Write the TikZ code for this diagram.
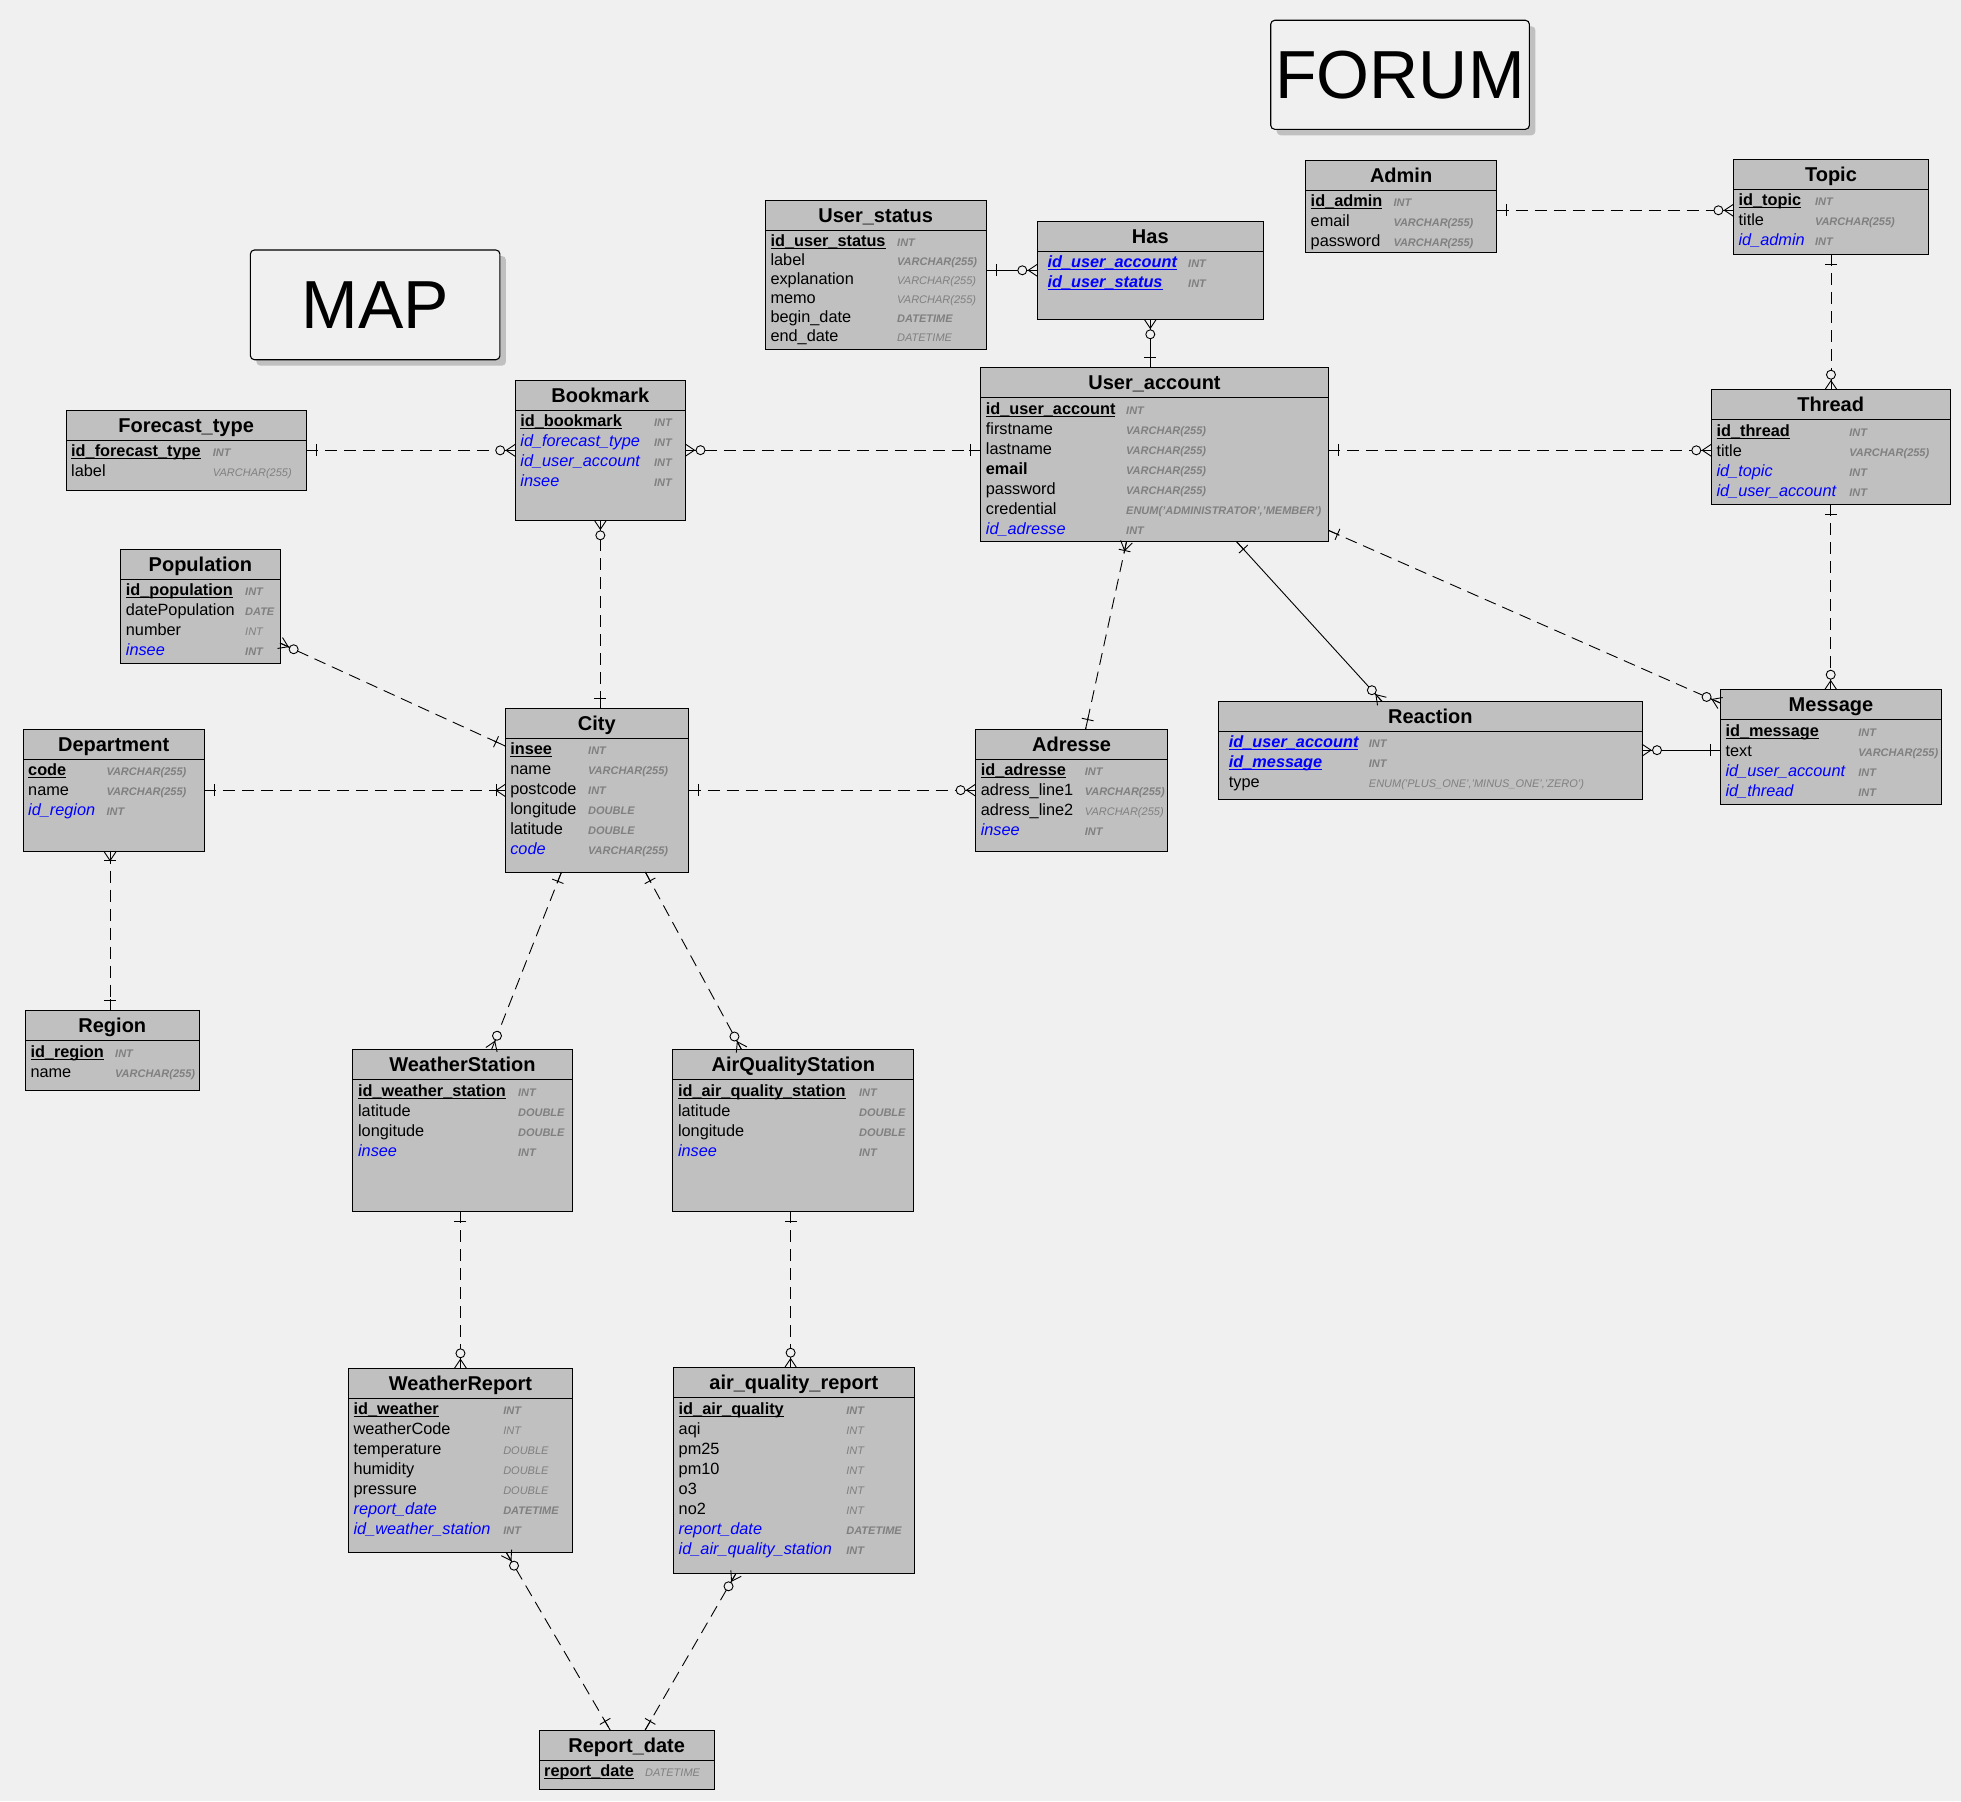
\documentclass[tikz,border=0pt]{standalone}
\usepackage{fontspec}
\setmainfont{Liberation Sans}
\usetikzlibrary{calc,shadows}
\definecolor{bgc}{HTML}{F0F0F0}
\definecolor{tblc}{HTML}{C0C0C0}
\definecolor{typec}{HTML}{808080}
\definecolor{fkblue}{HTML}{0000FF}
\definecolor{shadowc}{HTML}{C0C0C0}
\newcounter{rowc}
\newcommand\ulx[1]{\setbox0=\hbox{#1}\rlap{\rule[-2.6pt]{\wd0}{1.1pt}}\box0}
\newcommand\pkN[1]{{\bfseries\ulx{#1}}}
\newcommand\fkN[1]{{\itshape\color{fkblue}#1}}
\newcommand\pfN[1]{{\bfseries\itshape\color{fkblue}\ulx{#1}}}
\newcommand\plN[1]{#1}
\newcommand\bdN[1]{{\bfseries #1}}
\newcommand\tbT[1]{{\bfseries\itshape #1}}
\newcommand\tlT[1]{{\itshape #1}}
\tikzset{
  tblbox/.style={draw=black, line width=1pt, fill=tblc, inner sep=0pt, outer sep=0pt},
  hdrtxt/.style={font=\fontsize{20}{24}\selectfont\bfseries, anchor=base, inner sep=0pt},
  nametxt/.style={font=\fontsize{16.3}{19}\selectfont, anchor=base west, inner sep=0pt},
  typetxt/.style={font=\fontsize{11}{13}\selectfont, text=typec, anchor=base west, inner sep=0pt},
  dashline/.style={line width=0.9pt, dash pattern=on 12pt off 7pt},
  solidline/.style={line width=0.9pt},
  solidend/.style={line width=0.9pt, solid},
  titlebox/.style={draw=black, line width=1.1pt, fill=bgc, rounded corners=4pt, inner sep=0pt, outer sep=0pt,
    font=\fontsize{68}{80}\selectfont,
    drop shadow={shadow xshift=6pt, shadow yshift=-6pt, fill=shadowc, opacity=1}},
}
% table: name, left, top, right, bottom, name offset, type offset, row spacing, title
\newcommand\ertable[9]{%
  \def\curN{#1}\def\curL{#2}\def\curT{#3}\def\curNO{#6}\def\curTO{#7}\def\curS{#8}%
  \setcounter{rowc}{0}%
  \pgfmathsetmacro\tw{#4-#2}\pgfmathsetmacro\th{#5-#3}%
  \node[tblbox, minimum width=\tw pt, minimum height=\th pt, anchor=north west] (#1) at (#2,#3) {};
  \draw[line width=1pt] (#2,#3+30) -- (#4,#3+30);
  \node[hdrtxt] (#1-title) at ({(#2+#4)/2},{#3+22}) {#9};
}
\newcommand\fld[4]{%
  \stepcounter{rowc}%
  \pgfmathsetmacro\ry{\curT+46.5+(\arabic{rowc}-1)*\curS}%
  \pgfmathsetmacro\nx{\curL+\curNO}\pgfmathsetmacro\tx{\curL+\curTO}%
  \node[nametxt] (\curN-n\arabic{rowc}) at (\nx,\ry) {#1{#2}};
  \node[typetxt] (\curN-t\arabic{rowc}) at (\tx,\ry) {#3{#4}};
}
\newcommand\crone[2]{%
  \draw[solidend] (#1) -- ($(#1)!12pt!(#2)$);
  \draw[solidend] ($(#1)!10pt!(#2)!6pt!90:(#2)$) -- ($(#1)!10pt!(#2)!6pt!-90:(#2)$);
}
\newcommand\crzm[2]{%
  \draw[solidend] (#1) -- ($(#1)!19pt!(#2)$);
  \draw[solidend] ($(#1)!6pt!90:(#2)$) -- ($(#1)!9pt!(#2)$) -- ($(#1)!6pt!-90:(#2)$);
  \draw[solidend, fill=bgc] ($(#1)!15pt!(#2)$) circle[radius=4.5pt];
}
\newcommand\crom[2]{%
  \draw[solidend] (#1) -- ($(#1)!12pt!(#2)$);
  \draw[solidend] ($(#1)!6pt!90:(#2)$) -- ($(#1)!9pt!(#2)$) -- ($(#1)!6pt!-90:(#2)$);
  \draw[solidend] ($(#1)!9pt!(#2)!6pt!90:(#2)$) -- ($(#1)!9pt!(#2)!6pt!-90:(#2)$);
}
\newcommand\conn[5][dashline]{%
  \draw[#1] (#2) -- (#3);
  #4{#2}{#3}%
  #5{#3}{#2}%
}
\begin{document}
\begin{tikzpicture}[x=1pt,y=-1pt]
\useasboundingbox (0,0) rectangle (1961,1801);
\fill[bgc] (0,0) rectangle (1961,1801);

% title boxes
\node[titlebox, minimum width=249.5pt, minimum height=109.7pt, anchor=north west] (map) at (250.4,250) {MAP};
\node[titlebox, minimum width=258.7pt, minimum height=109pt, anchor=north west] (forum) at (1270.7,20.3) {FORUM};

% ---------- tables ----------
\ertable{fc}{66}{410}{306.3}{490.7}{5}{146.7}{20}{Forecast\_type}
\fld{\pkN}{id\_forecast\_type}{\tbT}{INT}
\fld{\plN}{label}{\tlT}{VARCHAR(255)}

\ertable{bm}{515.2}{380}{685.5}{520.3}{5}{138.6}{20}{Bookmark}
\fld{\pkN}{id\_bookmark}{\tbT}{INT}
\fld{\fkN}{id\_forecast\_type}{\tbT}{INT}
\fld{\fkN}{id\_user\_account}{\tbT}{INT}
\fld{\fkN}{insee}{\tbT}{INT}

\ertable{us}{765.3}{200.3}{986}{349.3}{5}{131.7}{19}{User\_status}
\fld{\pkN}{id\_user\_status}{\tbT}{INT}
\fld{\plN}{label}{\tbT}{VARCHAR(255)}
\fld{\plN}{explanation}{\tlT}{VARCHAR(255)}
\fld{\plN}{memo}{\tlT}{VARCHAR(255)}
\fld{\plN}{begin\_date}{\tbT}{DATETIME}
\fld{\plN}{end\_date}{\tlT}{DATETIME}

\ertable{has}{1037.3}{221.3}{1263.3}{319.3}{10}{150.7}{20}{Has}
\fld{\pfN}{id\_user\_account}{\tbT}{INT}
\fld{\pfN}{id\_user\_status}{\tbT}{INT}

\ertable{ua}{980.7}{367.7}{1328.3}{541.7}{5}{145.3}{20}{User\_account}
\fld{\pkN}{id\_user\_account}{\tbT}{INT}
\fld{\plN}{firstname}{\tbT}{VARCHAR(255)}
\fld{\plN}{lastname}{\tbT}{VARCHAR(255)}
\fld{\bdN}{email}{\tbT}{VARCHAR(255)}
\fld{\plN}{password}{\tbT}{VARCHAR(255)}
\fld{\plN}{credential}{\tbT}{ENUM('ADMINISTRATOR','MEMBER')}
\fld{\fkN}{id\_adresse}{\tbT}{INT}

\ertable{admin}{1305.5}{160.3}{1496.7}{252.3}{5}{87.8}{20}{Admin}
\fld{\pkN}{id\_admin}{\tbT}{INT}
\fld{\plN}{email}{\tbT}{VARCHAR(255)}
\fld{\plN}{password}{\tbT}{VARCHAR(255)}

\ertable{topic}{1733.4}{159.3}{1928.5}{254.3}{5}{81.4}{20}{Topic}
\fld{\pkN}{id\_topic}{\tbT}{INT}
\fld{\plN}{title}{\tbT}{VARCHAR(255)}
\fld{\fkN}{id\_admin}{\tbT}{INT}

\ertable{thread}{1711.3}{389.7}{1950.1}{504.3}{5}{137.9}{20}{Thread}
\fld{\pkN}{id\_thread}{\tbT}{INT}
\fld{\plN}{title}{\tbT}{VARCHAR(255)}
\fld{\fkN}{id\_topic}{\tbT}{INT}
\fld{\fkN}{id\_user\_account}{\tbT}{INT}

\ertable{msg}{1720.3}{689.7}{1941.6}{804.3}{5}{137.8}{20}{Message}
\fld{\pkN}{id\_message}{\tbT}{INT}
\fld{\plN}{text}{\tbT}{VARCHAR(255)}
\fld{\fkN}{id\_user\_account}{\tbT}{INT}
\fld{\fkN}{id\_thread}{\tbT}{INT}

\ertable{react}{1218.7}{701.3}{1642}{799}{10}{150}{20}{Reaction}
\fld{\pfN}{id\_user\_account}{\tbT}{INT}
\fld{\pfN}{id\_message}{\tbT}{INT}
\fld{\plN}{type}{\tlT}{ENUM('PLUS\_ONE','MINUS\_ONE','ZERO')}

\ertable{pop}{120.7}{549.3}{280}{663.3}{5}{124.3}{20}{Population}
\fld{\pkN}{id\_population}{\tbT}{INT}
\fld{\plN}{datePopulation}{\tbT}{DATE}
\fld{\plN}{number}{\tlT}{INT}
\fld{\fkN}{insee}{\tbT}{INT}

\ertable{dept}{23}{729.2}{204.3}{851.6}{5}{83.3}{20}{Department}
\fld{\pkN}{code}{\tbT}{VARCHAR(255)}
\fld{\plN}{name}{\tbT}{VARCHAR(255)}
\fld{\fkN}{id\_region}{\tbT}{INT}

\ertable{region}{25.3}{1010.5}{199.3}{1090.5}{5}{89.7}{20}{Region}
\fld{\pkN}{id\_region}{\tbT}{INT}
\fld{\plN}{name}{\tbT}{VARCHAR(255)}

\ertable{city}{505.1}{708.3}{688.5}{872}{5}{82.9}{20}{City}
\fld{\pkN}{insee}{\tbT}{INT}
\fld{\plN}{name}{\tbT}{VARCHAR(255)}
\fld{\plN}{postcode}{\tbT}{INT}
\fld{\plN}{longitude}{\tbT}{DOUBLE}
\fld{\plN}{latitude}{\tbT}{DOUBLE}
\fld{\fkN}{code}{\tbT}{VARCHAR(255)}

\ertable{adr}{975.6}{729.3}{1167.5}{851.3}{5}{109}{20}{Adresse}
\fld{\pkN}{id\_adresse}{\tbT}{INT}
\fld{\plN}{adress\_line1}{\tbT}{VARCHAR(255)}
\fld{\plN}{adress\_line2}{\tlT}{VARCHAR(255)}
\fld{\fkN}{insee}{\tbT}{INT}

\ertable{ws}{352.9}{1049.7}{572.1}{1211}{5}{165}{20}{WeatherStation}
\fld{\pkN}{id\_weather\_station}{\tbT}{INT}
\fld{\plN}{latitude}{\tbT}{DOUBLE}
\fld{\plN}{longitude}{\tbT}{DOUBLE}
\fld{\fkN}{insee}{\tbT}{INT}

\ertable{aqs}{672.8}{1049.7}{913.8}{1211}{5}{186.1}{20}{AirQualityStation}
\fld{\pkN}{id\_air\_quality\_station}{\tbT}{INT}
\fld{\plN}{latitude}{\tbT}{DOUBLE}
\fld{\plN}{longitude}{\tbT}{DOUBLE}
\fld{\fkN}{insee}{\tbT}{INT}

\ertable{wr}{348.4}{1368.3}{572.5}{1552.7}{5}{154.7}{20}{WeatherReport}
\fld{\pkN}{id\_weather}{\tbT}{INT}
\fld{\plN}{weatherCode}{\tlT}{INT}
\fld{\plN}{temperature}{\tlT}{DOUBLE}
\fld{\plN}{humidity}{\tlT}{DOUBLE}
\fld{\plN}{pressure}{\tlT}{DOUBLE}
\fld{\fkN}{report\_date}{\tbT}{DATETIME}
\fld{\fkN}{id\_weather\_station}{\tbT}{INT}

\ertable{aqr}{673.5}{1367.7}{914.2}{1573.3}{5}{172.7}{20}{air\_quality\_report}
\fld{\pkN}{id\_air\_quality}{\tbT}{INT}
\fld{\plN}{aqi}{\tlT}{INT}
\fld{\plN}{pm25}{\tlT}{INT}
\fld{\plN}{pm10}{\tlT}{INT}
\fld{\plN}{o3}{\tlT}{INT}
\fld{\plN}{no2}{\tlT}{INT}
\fld{\fkN}{report\_date}{\tbT}{DATETIME}
\fld{\fkN}{id\_air\_quality\_station}{\tbT}{INT}

\ertable{rd}{539}{1730}{714.3}{1789.3}{5}{106}{20}{Report\_date}
\fld{\pkN}{report\_date}{\tlT}{DATETIME}

% ---------- connectors ----------
\coordinate (k1a) at (fc.east); \coordinate (k1b) at (bm.west |- fc.east);
\conn{k1a}{k1b}{\crone}{\crzm}
\coordinate (k2a) at (bm.east); \coordinate (k2b) at (ua.west |- bm.east);
\conn{k2a}{k2b}{\crzm}{\crone}
\coordinate (k3a) at (us.east |- has.west); \coordinate (k3b) at (has.west);
\conn[solidline]{k3a}{k3b}{\crone}{\crzm}
\coordinate (k4a) at (has.south); \coordinate (k4b) at (ua.north -| has.south);
\conn[solidline]{k4a}{k4b}{\crzm}{\crone}
\coordinate (k5a) at ([yshift=-4pt]admin.east); \coordinate (k5b) at (topic.west |- k5a);
\conn{k5a}{k5b}{\crone}{\crzm}
\coordinate (k6a) at (topic.south); \coordinate (k6b) at (thread.north -| topic.south);
\conn{k6a}{k6b}{\crone}{\crzm}
\coordinate (k7a) at ([yshift=4.4pt]ua.east); \coordinate (k7b) at (thread.west |- k7a);
\conn{k7a}{k7b}{\crone}{\crzm}
\coordinate (k8a) at (thread.south); \coordinate (k8b) at (msg.north -| thread.south);
\conn{k8a}{k8b}{\crone}{\crzm}
\coordinate (k9a) at ([yshift=-75.6pt]ua.east); \coordinate (k9b) at ([yshift=44pt]msg.west);
\conn{k9a}{k9b}{\crone}{\crzm}
\coordinate (k10a) at ([xshift=82.1pt]ua.south); \coordinate (k10b) at ([xshift=-48.4pt]react.north);
\conn[solidline]{k10a}{k10b}{\crone}{\crzm}
\coordinate (k11a) at (react.east); \coordinate (k11b) at (msg.west |- react.east);
\conn[solidline]{k11a}{k11b}{\crzm}{\crone}
\coordinate (k12a) at ([xshift=-28pt]ua.south); \coordinate (k12b) at ([xshift=14pt]adr.north);
\conn{k12a}{k12b}{\crom}{\crone}
\coordinate (k13a) at (bm.south); \coordinate (k13b) at (city.north -| bm.south);
\conn{k13a}{k13b}{\crzm}{\crone}
\coordinate (k14a) at ([yshift=-36.7pt]pop.east); \coordinate (k14b) at ([yshift=44.2pt]city.west);
\conn{k14a}{k14b}{\crzm}{\crone}
\coordinate (k15a) at (dept.east); \coordinate (k15b) at (city.west |- dept.east);
\conn{k15a}{k15b}{\crone}{\crom}
\coordinate (k16a) at (city.east); \coordinate (k16b) at (adr.west |- city.east);
\conn{k16a}{k16b}{\crone}{\crzm}
\coordinate (k17a) at ([xshift=-3.6pt]dept.south); \coordinate (k17b) at (region.north -| k17a);
\conn{k17a}{k17b}{\crom}{\crone}
\coordinate (k18a) at ([xshift=-35.3pt]city.south); \coordinate (k18b) at ([xshift=29pt]ws.north);
\conn{k18a}{k18b}{\crone}{\crzm}
\coordinate (k19a) at ([xshift=48.5pt]city.south); \coordinate (k19b) at ([xshift=-51.7pt]aqs.north);
\conn{k19a}{k19b}{\crone}{\crzm}
\coordinate (k20a) at (ws.south -| wr.north); \coordinate (k20b) at (wr.north);
\conn{k20a}{k20b}{\crone}{\crzm}
\coordinate (k21a) at ([xshift=-2.7pt]aqs.south); \coordinate (k21b) at (aqr.north -| k21a);
\conn{k21a}{k21b}{\crone}{\crzm}
\coordinate (k22a) at ([xshift=46pt]wr.south); \coordinate (k22b) at ([xshift=-16.5pt]rd.north);
\conn{k22a}{k22b}{\crzm}{\crone}
\coordinate (k23a) at ([xshift=-57.8pt]aqr.south); \coordinate (k23b) at ([xshift=18.5pt]rd.north);
\conn{k23a}{k23b}{\crzm}{\crone}
\end{tikzpicture}
\end{document}
